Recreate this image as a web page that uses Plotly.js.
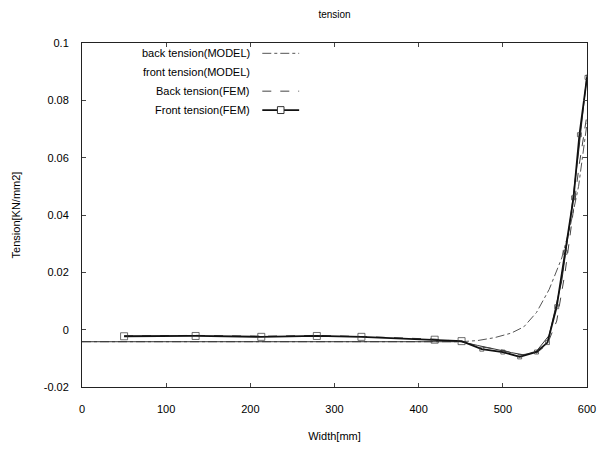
<!DOCTYPE html>
<html><head><meta charset="utf-8">
<script src="https://cdn.plot.ly/plotly-3.0.1.min.js"></script>
<style>body{margin:0;background:#fff}#c{width:604px;height:449px}</style>
</head><body><div id="c"></div>
<script>
// Model curves
const xModel = [0, 50, 100, 150, 200, 250, 300, 350, 400, 450, 470, 490, 510, 525, 540, 555, 570, 580, 590, 600];
const backModel = [-0.0042, -0.0042, -0.0042, -0.0042, -0.0042, -0.0042, -0.0042, -0.0042, -0.0042, -0.0042, -0.0038, -0.0028, -0.0012, 0.001, 0.006, 0.014, 0.025, 0.036, 0.05, 0.072];
const frontModel = [-0.0042, -0.0042, -0.0042, -0.0042, -0.0042, -0.0042, -0.0042, -0.0042, -0.0042, -0.0042, -0.0055, -0.0068, -0.008, -0.0088, -0.0075, -0.002, 0.017, 0.038, 0.062, 0.089];
// FEM results
const xFEM = [50, 135, 213, 279, 332, 419, 451, 475, 500, 520, 540, 553, 564, 574, 584, 591, 600];
const backFEM = [-0.0022, -0.002, -0.0023, -0.002, -0.0024, -0.0033, -0.0042, -0.006, -0.0072, -0.0088, -0.0082, -0.005, 0.003, 0.02, 0.042, 0.058, 0.075];
const frontFEM = [-0.0023, -0.0022, -0.0025, -0.0022, -0.0025, -0.0035, -0.004, -0.0068, -0.0078, -0.0095, -0.0078, -0.0045, 0.008, 0.027, 0.046, 0.068, 0.088];
const seriesNames = ["back tension(MODEL)", "front tension(MODEL)", "Back tension(FEM)", "Front tension(FEM)"];

const font = {family: "Liberation Sans, Arial, sans-serif", size: 11, color: "#000"};
const markerSizes = xFEM.map(x => (x <= 460 ? 7 : 4));
const traces = [
  {x: xModel, y: backModel, name: seriesNames[0], mode: "lines", line: {color: "#555", width: 1, dash: "dashdot"}},
  {x: xModel, y: frontModel, name: seriesNames[1], mode: "lines", line: {color: "#333", width: 1}},
  {x: xFEM, y: backFEM, name: seriesNames[2], mode: "lines", line: {color: "#444", width: 1, dash: "dash"}},
  {x: xFEM, y: frontFEM, name: seriesNames[3], mode: "lines+markers", line: {color: "#111", width: 1.8},
   marker: {symbol: "square-open", size: markerSizes, color: "#333", line: {width: 1}}}
];

// legend drawn at top-left with text right-aligned and sample to the right
const legY = [0.97, 0.915, 0.86, 0.805];
const annotations = seriesNames.map((n, i) => ({
  xref: "paper", yref: "paper", x: 0.336, y: legY[i], xanchor: "right", yanchor: "middle",
  text: n, showarrow: false, font: font
}));
const shapes = [
  {type: "line", xref: "paper", yref: "paper", x0: 0.357, x1: 0.43, y0: legY[0], y1: legY[0], line: {color: "#555", width: 1, dash: "dashdot"}},
  {type: "line", xref: "paper", yref: "paper", x0: 0.357, x1: 0.43, y0: legY[2], y1: legY[2], line: {color: "#444", width: 1, dash: "dash"}},
  {type: "line", xref: "paper", yref: "paper", x0: 0.357, x1: 0.43, y0: legY[3], y1: legY[3], line: {color: "#111", width: 1.8}},
  {type: "rect", xref: "paper", yref: "paper", x0: 0.387, x1: 0.4, y0: legY[3] - 0.01, y1: legY[3] + 0.01, line: {color: "#333", width: 1}, fillcolor: "#fff"}
];

const layout = {
  width: 604, height: 449,
  margin: {l: 82, r: 17, t: 43, b: 62},
  paper_bgcolor: "#fff", plot_bgcolor: "#fff",
  showlegend: false,
  font: font,
  title: {text: "tension", font: {family: font.family, size: 10, color: "#000"}, x: 0.5, xref: "paper", y: 0.968, yanchor: "middle"},
  xaxis: {
    range: [0, 600], tickvals: [0, 100, 200, 300, 400, 500, 600],
    ticks: "inside", ticklen: 4, mirror: "allticks", showline: true, linecolor: "#222", linewidth: 1,
    showgrid: false, zeroline: false, ticklabelstandoff: 12,
    title: {text: "Width[mm]", font: font, standoff: 18}
  },
  yaxis: {
    range: [-0.02, 0.1], tickvals: [-0.02, 0, 0.02, 0.04, 0.06, 0.08, 0.1],
    ticktext: ["-0.02", "0", "0.02", "0.04", "0.06", "0.08", "0.1"],
    ticks: "inside", ticklen: 4, mirror: "allticks", showline: true, linecolor: "#222", linewidth: 1,
    showgrid: false, zeroline: false, ticklabelstandoff: 10,
    title: {text: "Tension[KN/mm2]", font: font, standoff: 20}
  },
  annotations: annotations, shapes: shapes
};
Plotly.newPlot("c", traces, layout, {displayModeBar: false, staticPlot: true});
</script></body></html>
